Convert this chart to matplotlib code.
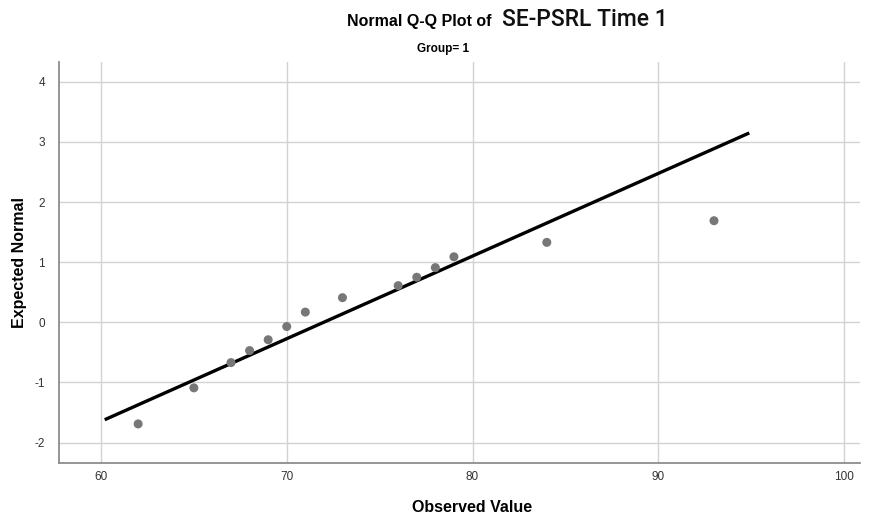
import matplotlib
matplotlib.use("Agg")
import matplotlib.pyplot as plt
import numpy as np

observed = [62, 65, 67, 68, 69, 70, 71, 73, 76, 77, 78, 79, 84, 93]
expected = [-1.69, -1.09, -0.67, -0.47, -0.29, -0.07, 0.17, 0.41,
            0.61, 0.75, 0.91, 1.09, 1.33, 1.69]

# reference line endpoints
line_x = [60.2, 94.9]
line_y = [-1.62, 3.15]

x_ticks = [60, 70, 80, 90, 100]
y_ticks = [-2, -1, 0, 1, 2, 3, 4]

plt.rcParams['font.family'] = ['Liberation Sans', 'DejaVu Sans']
plt.rcParams['axes.unicode_minus'] = False

fig = plt.figure(figsize=(8.75, 5.21), dpi=100)
ax = fig.add_axes([59 / 875, 58 / 521, 801 / 875, 401 / 521])

ax.grid(True, color='#d2d2d2', linewidth=1.0, zorder=0)
ax.set_axisbelow(True)
ax.plot(line_x, line_y, color='black', linewidth=2.4, solid_capstyle='butt', zorder=3)
ax.scatter(observed, expected, s=42, color='#777777', edgecolors='none', zorder=4)

ax.set_xlim(57.74, 100.86)
ax.set_ylim(-2.34, 4.33)
ax.set_xticks(x_ticks)
ax.set_yticks(y_ticks)
ax.tick_params(length=0, labelsize=8.5, colors='#333333')
ax.tick_params(axis='x', pad=6)
ax.tick_params(axis='y', pad=10)

for s in ['top', 'right']:
    ax.spines[s].set_visible(False)
for s in ['left', 'bottom']:
    ax.spines[s].set_color('#8c8c8c')
    ax.spines[s].set_linewidth(1.3)

# axis titles placed in figure pixels so nothing is clipped
fig.text(472 / 875, 1 - 507 / 521, 'Observed Value', ha='center', va='center',
         fontsize=11.5, fontweight='bold')
fig.text(20 / 875, 1 - 262 / 521, 'Expected Normal', ha='center', va='center',
         rotation=90, fontsize=11.5, fontweight='bold')

# two-part title
fig.text(496 / 875, 1 - 26 / 521, 'Normal Q-Q Plot of ', ha='right', va='baseline',
         fontsize=11.5, fontweight='bold')
fig.text(502 / 875, 1 - 26 / 521, 'SE-PSRL Time 1', ha='left', va='baseline',
         fontsize=16.5, family=['Roboto', 'DejaVu Sans'], fontweight='medium',
         color='#111111')
fig.text(443 / 875, 1 - 49 / 521, 'Group= 1', ha='center', va='center',
         fontsize=8.5, fontweight='bold')

fig.savefig('out.png', dpi=100)
